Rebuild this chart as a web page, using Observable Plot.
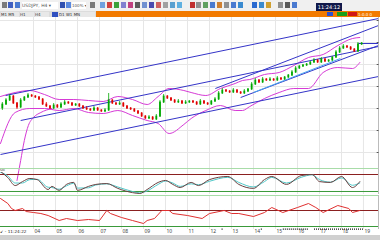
<!DOCTYPE html>
<html><head><meta charset="utf-8">
<script src="https://cdn.jsdelivr.net/npm/d3@7"></script>
<script src="https://cdn.jsdelivr.net/npm/@observablehq/plot@0.6"></script>
<style>
body{margin:0;background:#fff;font-family:"DejaVu Sans",sans-serif;}
#wrap{position:relative;width:380px;height:240px;overflow:hidden;background:#fff;}
.abs{position:absolute;}
svg{display:block;overflow:visible;}
</style></head><body><div id="wrap"></div>
<script>
// ---------- data ----------
const open  = [92,96,100,104,97,93,100,103,105,104,103,101,96,94,92,95,93,96,98,97,95,96,94,92,91,90,92,90,89,90,100,97,96,97,94,92,91,89,87,84,82,83,81,84,98,104,102,100,98,99,97,98,99,98,96,99,97,96,99,101,107,110,109,108,110,108,107,109,111,116,120,118,121,120,121,120,122,121,123,125,128,132,134,135,136,138,140,138,141,139,140,143,148,152,154,153,151,149,156];
const close = [96,100,104,97,93,100,103,105,104,103,101,96,94,92,95,93,96,98,97,95,96,94,92,91,90,92,90,89,90,100,97,96,97,94,92,91,89,87,84,82,83,81,84,98,104,102,100,98,99,97,98,99,98,96,99,97,96,99,101,107,110,109,108,110,108,107,109,111,116,120,118,121,120,121,120,122,121,123,125,128,132,134,135,136,138,140,138,141,139,140,143,148,152,154,153,151,149,156,157];
const high  = [98,102,106,105,98,102,104,107,106,105,104,102,98,95,97,96,98,100,99,98,97,97,95,94,92,94,93,91,92,107,101,98,99,98,95,93,92,90,88,85,85,84,86,100,106,105,103,101,101,100,100,100,100,99,101,100,98,100,103,109,112,111,110,112,111,109,111,112,118,122,121,123,122,123,122,124,123,124,126,130,134,135,136,137,139,142,141,143,142,141,144,150,154,156,155,154,152,158,158];
const low   = [90,95,99,96,91,92,99,102,103,102,100,95,93,91,91,92,92,95,96,94,94,93,91,90,89,89,89,88,88,89,96,95,95,93,91,90,88,86,83,81,81,80,80,83,97,101,99,97,97,96,96,97,97,95,95,96,95,95,98,100,106,108,107,107,107,106,106,108,110,115,117,117,119,119,119,119,120,120,122,124,127,131,133,134,135,137,137,137,138,138,139,142,147,151,152,150,148,148,155];

// Bollinger bands (sampled at bar index)
const bandX     = [0,4,8,12,16,20,24,28,32,36,40,43,46,50,52,56,60,64,66,68,72,76,80,84,88,92,96,98];
const bandUpper = [104,108,110,106,101,101,100,99,104,101,96,104,112,110,108,105,112,117,120,121,126,128,135,143,146,155,162,163];
const bandLower = [57,88,92,92,90,92,88,87,90,85,80,77,67,76,82,90,95,90,90,94,102,108,112,112,128,133,132,138];
const wideX     = [4.5,5.5,6.5,7.6,9,11,14];
const wideLower = [20,40,60,75,83,88,92];

// trend / channel lines
const lineX1 = [1.4, 5.5, 0, 58.6, 65.5, 69, 97.6];
const lineY1 = [105, 80, 46, 112, 103, 108, 157];
const lineX2 = [103.1, 103.1, 103.1, 103.1, 103.1, 92.7, 103.1];
const lineY2 = [182, 154, 124, 175, 155, 142, 157];
const lineKind = ["blue","blue","blue","blue","blue","cyan","blue"];

// Stochastic
const stoX = [0,2,4,6,8,10,13,14,16,18,20,21,24,26,29,32,36,38,40,43,45,47,49,52,54,57,62,65,69,72,74,78,82,85,87,90,93,96,98];
const stoK = [91,69,41,55,66,62,27,38,24,45,52,24,38,45,48,31,16,13,27,52,59,45,34,52,41,62,73,45,31,62,73,45,76,80,55,52,73,34,55];
const stoD = [88,75,50,50,62,63,35,34,28,40,49,32,33,43,47,36,20,15,22,45,57,50,38,47,44,56,70,52,36,55,70,50,70,79,62,53,68,42,50];

// RSI
const rsiX = [0,2,3,4,6,7,9,11,13,16,18,21,24,27,29,30,33,36,39,40,42,44,46,47,51,55,57,61,63,65,69,72,74,77,81,84,86,88,92,95,96,98];
const rsiV = [100,87.5,75,70,75,67.5,65,62.5,57.5,45,50,45,47.5,45,70,62.5,52.5,45,37.5,45,50,70,70,62.5,57.5,50,62.5,70,62.5,62.5,55,65,77.5,65,77.5,87.5,77.5,65,82.5,75,65,70];

// axes
const dayTicks   = [9,15,21,27,33,39,45,51,57,63,69,75,81,87,93,99];
const dayLabels  = ["04","05","06","07","08","09","10","11","12","13","14","15","16","17","18","19"];
const priceTicks = [48,70,92,114,136,158,180];
const eventSpans = [[60.3,60.7],[71,71.4],[77,84],[85.5,99]];

// ---------- build ----------
const bars = close.map((c, i) => ({x: i + 0.5, o: open[i], c, h: high[i], l: low[i]}));
const upColor = "#00a800", dnColor = "#e00000";
const col = d => d.c >= d.o ? upColor : dnColor;
const xs = {domain: [0, 103.1], axis: null};
const gridCol = "#e6e6e6";
const wrap = document.getElementById("wrap");
function place(node, top) { node.classList.add("abs"); node.style.left = "0px"; node.style.top = top + "px"; wrap.appendChild(node); }

const main = Plot.plot({
  width: 380, height: 151, marginLeft: 0, marginRight: 2, marginTop: 0, marginBottom: 0,
  x: xs, y: {domain: [32, 183], axis: null}, color: {type: "identity"},
  style: {background: "transparent"},
  marks: [
    Plot.ruleX(dayTicks, {stroke: gridCol}),
    Plot.ruleY(priceTicks, {stroke: gridCol}),
    Plot.line(bandX.map((x, i) => ({x, y: bandUpper[i]})), {x: "x", y: "y", stroke: "#d63ad6", curve: "monotone-x", strokeWidth: 1}),
    Plot.line(bandX.map((x, i) => ({x, y: bandLower[i]})), {x: "x", y: "y", stroke: "#d63ad6", curve: "monotone-x", strokeWidth: 1}),
    Plot.line(wideX.map((x, i) => ({x, y: wideLower[i]})), {x: "x", y: "y", stroke: "#d63ad6", curve: "monotone-x", strokeWidth: 1}),
    Plot.link(lineX1.map((x1, i) => ({x1, y1: lineY1[i], x2: lineX2[i], y2: lineY2[i], k: lineKind[i]})),
      {x1: "x1", y1: "y1", x2: "x2", y2: "y2", stroke: d => d.k === "cyan" ? "#4aa8f0" : "#3434c8", strokeWidth: 1}),
    Plot.ruleX(bars, {x: "x", y1: "l", y2: "h", stroke: col, strokeWidth: 0.8}),
    Plot.ruleX(bars, {x: "x", y1: d => Math.min(d.o, d.c) - 0.4, y2: d => Math.max(d.o, d.c) + 0.4, stroke: col, strokeWidth: 1.8}),
    Plot.ruleX([103.1], {stroke: "#bbb"}),
    Plot.link(priceTicks, {x1: () => 102.6, x2: () => 103.1, y1: d => d, y2: d => d, stroke: "#555"})
  ]
});

const osc1 = Plot.plot({
  width: 380, height: 26, marginLeft: 0, marginRight: 2, marginTop: 0, marginBottom: 0,
  x: xs, y: {domain: [9.4, 101.2], axis: null},
  marks: [
    Plot.ruleX(dayTicks, {stroke: gridCol}),
    Plot.ruleY([101.2], {stroke: "#a8dca8"}),
    Plot.ruleY([80], {stroke: "#8b2020"}),
    Plot.ruleY([20], {stroke: "#3a9a3a"}),
    Plot.line(stoX.map((x, i) => ({x, y: stoD[i]})), {x: "x", y: "y", stroke: "#50c8c8", curve: "monotone-x", strokeWidth: 1}),
    Plot.line(stoX.map((x, i) => ({x, y: stoK[i]})), {x: "x", y: "y", stroke: "#6a4040", curve: "monotone-x", strokeWidth: 1}),
    Plot.ruleX([103.1], {stroke: "#bbb"})
  ]
});

const osc2 = Plot.plot({
  width: 380, height: 40, marginLeft: 0, marginRight: 2, marginTop: 0, marginBottom: 6,
  x: xs, y: {domain: [22.5, 107.5], axis: null},
  marks: [
    Plot.ruleX(dayTicks, {stroke: gridCol, y1: 22.5, y2: 107.5}),
    Plot.ruleY([107.5], {stroke: "#a8dca8"}),
    Plot.ruleY([70], {stroke: "#8b2020"}),
    Plot.ruleY([30], {stroke: "#3a9a3a"}),
    Plot.line(rsiX.map((x, i) => ({x, y: rsiV[i]})), {x: "x", y: "y", stroke: "#e03030", curve: "linear", strokeWidth: 1}),
    Plot.link(eventSpans, {x1: d => d[0], x2: d => d[1], y1: () => 23.5, y2: () => 23.5, stroke: "#111", strokeWidth: 1.2, strokeDasharray: "1 1"}),
    Plot.text(dayTicks, {x: d => d, y: () => 19, text: (d, i) => dayLabels[i], textAnchor: "start", dx: 1, fontSize: 5, fill: "#444"}),
    Plot.ruleX([103.1], {stroke: "#bbb"})
  ]
});

// ---------- chrome (toolbar etc.) ----------
function box(x, y, w, h, bg, txt, color, fs) {
  const d = document.createElement("div");
  d.className = "abs";
  Object.assign(d.style, {left: x + "px", top: y + "px", width: w + "px", height: h + "px", background: bg,
    color: color || "#000", fontSize: (fs || 5) + "px", lineHeight: h + "px", whiteSpace: "nowrap", overflow: "hidden"});
  if (txt) d.textContent = txt;
  wrap.appendChild(d);
  return d;
}
box(0, 0, 380, 11, "#f0f0f0");
const icons = [[2,"#7a7a7a"],[8,"#4060c0"],[15,"#4a7ad0"],[60,"#3050b0"],[66,"#5a8ae0"],[90,"#7a7a7a"],[100,"#70a0e0"],[107,"#d04040"],[114,"#3aa03a"],[121,"#8080d0"],[128,"#c04080"],[135,"#5a5a5a"],[142,"#7090d0"],[149,"#4a4ab0"],[156,"#d06060"],[163,"#a0a0a0"],[170,"#5aa0d0"],[177,"#60b0e0"],[190,"#c03030"],[196,"#909090"],[203,"#60a060"],[210,"#4a7ad0"],[217,"#d08030"],[224,"#909090"],[231,"#4a7ad0"],[238,"#3a8ad0"],[252,"#2a6ad0"],[259,"#3a8ad0"],[266,"#d0a030"],[278,"#909090"],[285,"#5a5a5a"],[292,"#4a7ad0"]];
icons.forEach(([x, c]) => box(x, 2, 5, 6, c));
box(22, 2, 36, 7, "#fff", "USDJPY, H4 ▾", "#555", 4.5);
box(72, 2, 14, 7, "#fff", "100% ▾", "#555", 4);
box(316, 3, 26, 8, "#10184a", "11:24:12", "#fff", 5).style.textAlign = "center";
box(0, 11, 380, 6, "#dcdcdc");
box(1, 11.5, 18, 5, "#e8e8e8", " M1  M5", "#333", 4);
box(20, 11.5, 14, 5, "#e8e8e8", " H1", "#333", 4);
box(35, 11.5, 14, 5, "#e8e8e8", " H4", "#333", 4);
box(52, 11.5, 6, 5, "#3050c0");
box(59, 11.5, 36, 5, "#e8e8e8", " D1  W1  MN", "#333", 4);
box(96, 11, 284, 6, "#f27a00");
box(327, 12, 6, 4, "#2a50d0");
box(337, 12, 10, 4, "#18a018");
box(348, 12, 9, 4, "#d01818");
box(358, 11.5, 22, 5, "transparent", "1:0.0  0", "#fff", 4);

place(main, 17);
place(osc1, 168);
place(osc2, 195);
box(0, 169, 7, 3, "#fff", "Sto", "#333", 3);
box(0, 229, 27, 5, "#fff", "↙ - 11:24:22", "#222", 4.2);
box(0, 235, 380, 5, "#d0d0d0");
</script></body></html>
